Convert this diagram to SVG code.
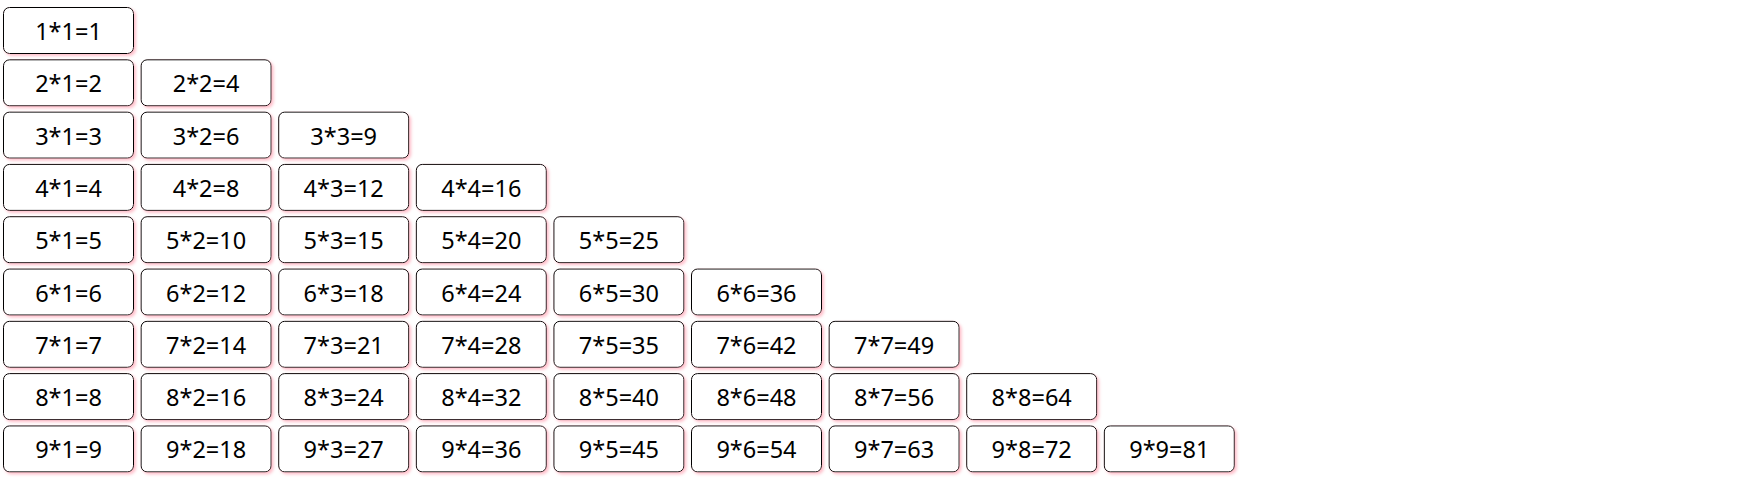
<svg xmlns="http://www.w3.org/2000/svg" width="1762" height="493" viewBox="0 0 1762 493">
<defs>
<filter id="sh" x="-10%" y="-10%" width="120%" height="130%">
<feDropShadow dx="2" dy="2" stdDeviation="1.5" flood-color="#ffc0cb" flood-opacity="1"/>
</filter>
</defs>
<style>
.b rect{fill:#fff;stroke:#000;stroke-width:1;filter:url(#sh)}
.b text{font-family:"Noto Sans","Open Sans","DejaVu Sans",sans-serif;font-size:23.5px;fill:#000;text-anchor:middle}
</style>
<rect width="1762" height="493" fill="#fff"/>
<g id="connectors"></g>
<g class="b" id="n1x1"><rect x="3.5" y="7.5" width="130" height="46" rx="6"/><text x="68.5" y="40">1*1=1</text></g>
<g class="b" id="n2x1"><rect x="3.5" y="59.8" width="130" height="46" rx="6"/><text x="68.5" y="92.3">2*1=2</text></g>
<g class="b" id="n2x2"><rect x="141.1" y="59.8" width="130" height="46" rx="6"/><text x="206.1" y="92.3">2*2=4</text></g>
<g class="b" id="n3x1"><rect x="3.5" y="112.1" width="130" height="46" rx="6"/><text x="68.5" y="144.6">3*1=3</text></g>
<g class="b" id="n3x2"><rect x="141.1" y="112.1" width="130" height="46" rx="6"/><text x="206.1" y="144.6">3*2=6</text></g>
<g class="b" id="n3x3"><rect x="278.7" y="112.1" width="130" height="46" rx="6"/><text x="343.7" y="144.6">3*3=9</text></g>
<g class="b" id="n4x1"><rect x="3.5" y="164.4" width="130" height="46" rx="6"/><text x="68.5" y="196.9">4*1=4</text></g>
<g class="b" id="n4x2"><rect x="141.1" y="164.4" width="130" height="46" rx="6"/><text x="206.1" y="196.9">4*2=8</text></g>
<g class="b" id="n4x3"><rect x="278.7" y="164.4" width="130" height="46" rx="6"/><text x="343.7" y="196.9">4*3=12</text></g>
<g class="b" id="n4x4"><rect x="416.3" y="164.4" width="130" height="46" rx="6"/><text x="481.3" y="196.9">4*4=16</text></g>
<g class="b" id="n5x1"><rect x="3.5" y="216.7" width="130" height="46" rx="6"/><text x="68.5" y="249.2">5*1=5</text></g>
<g class="b" id="n5x2"><rect x="141.1" y="216.7" width="130" height="46" rx="6"/><text x="206.1" y="249.2">5*2=10</text></g>
<g class="b" id="n5x3"><rect x="278.7" y="216.7" width="130" height="46" rx="6"/><text x="343.7" y="249.2">5*3=15</text></g>
<g class="b" id="n5x4"><rect x="416.3" y="216.7" width="130" height="46" rx="6"/><text x="481.3" y="249.2">5*4=20</text></g>
<g class="b" id="n5x5"><rect x="553.9" y="216.7" width="130" height="46" rx="6"/><text x="618.9" y="249.2">5*5=25</text></g>
<g class="b" id="n6x1"><rect x="3.5" y="269" width="130" height="46" rx="6"/><text x="68.5" y="301.5">6*1=6</text></g>
<g class="b" id="n6x2"><rect x="141.1" y="269" width="130" height="46" rx="6"/><text x="206.1" y="301.5">6*2=12</text></g>
<g class="b" id="n6x3"><rect x="278.7" y="269" width="130" height="46" rx="6"/><text x="343.7" y="301.5">6*3=18</text></g>
<g class="b" id="n6x4"><rect x="416.3" y="269" width="130" height="46" rx="6"/><text x="481.3" y="301.5">6*4=24</text></g>
<g class="b" id="n6x5"><rect x="553.9" y="269" width="130" height="46" rx="6"/><text x="618.9" y="301.5">6*5=30</text></g>
<g class="b" id="n6x6"><rect x="691.5" y="269" width="130" height="46" rx="6"/><text x="756.5" y="301.5">6*6=36</text></g>
<g class="b" id="n7x1"><rect x="3.5" y="321.3" width="130" height="46" rx="6"/><text x="68.5" y="353.8">7*1=7</text></g>
<g class="b" id="n7x2"><rect x="141.1" y="321.3" width="130" height="46" rx="6"/><text x="206.1" y="353.8">7*2=14</text></g>
<g class="b" id="n7x3"><rect x="278.7" y="321.3" width="130" height="46" rx="6"/><text x="343.7" y="353.8">7*3=21</text></g>
<g class="b" id="n7x4"><rect x="416.3" y="321.3" width="130" height="46" rx="6"/><text x="481.3" y="353.8">7*4=28</text></g>
<g class="b" id="n7x5"><rect x="553.9" y="321.3" width="130" height="46" rx="6"/><text x="618.9" y="353.8">7*5=35</text></g>
<g class="b" id="n7x6"><rect x="691.5" y="321.3" width="130" height="46" rx="6"/><text x="756.5" y="353.8">7*6=42</text></g>
<g class="b" id="n7x7"><rect x="829.1" y="321.3" width="130" height="46" rx="6"/><text x="894.1" y="353.8">7*7=49</text></g>
<g class="b" id="n8x1"><rect x="3.5" y="373.6" width="130" height="46" rx="6"/><text x="68.5" y="406.1">8*1=8</text></g>
<g class="b" id="n8x2"><rect x="141.1" y="373.6" width="130" height="46" rx="6"/><text x="206.1" y="406.1">8*2=16</text></g>
<g class="b" id="n8x3"><rect x="278.7" y="373.6" width="130" height="46" rx="6"/><text x="343.7" y="406.1">8*3=24</text></g>
<g class="b" id="n8x4"><rect x="416.3" y="373.6" width="130" height="46" rx="6"/><text x="481.3" y="406.1">8*4=32</text></g>
<g class="b" id="n8x5"><rect x="553.9" y="373.6" width="130" height="46" rx="6"/><text x="618.9" y="406.1">8*5=40</text></g>
<g class="b" id="n8x6"><rect x="691.5" y="373.6" width="130" height="46" rx="6"/><text x="756.5" y="406.1">8*6=48</text></g>
<g class="b" id="n8x7"><rect x="829.1" y="373.6" width="130" height="46" rx="6"/><text x="894.1" y="406.1">8*7=56</text></g>
<g class="b" id="n8x8"><rect x="966.7" y="373.6" width="130" height="46" rx="6"/><text x="1031.7" y="406.1">8*8=64</text></g>
<g class="b" id="n9x1"><rect x="3.5" y="425.9" width="130" height="46" rx="6"/><text x="68.5" y="458.4">9*1=9</text></g>
<g class="b" id="n9x2"><rect x="141.1" y="425.9" width="130" height="46" rx="6"/><text x="206.1" y="458.4">9*2=18</text></g>
<g class="b" id="n9x3"><rect x="278.7" y="425.9" width="130" height="46" rx="6"/><text x="343.7" y="458.4">9*3=27</text></g>
<g class="b" id="n9x4"><rect x="416.3" y="425.9" width="130" height="46" rx="6"/><text x="481.3" y="458.4">9*4=36</text></g>
<g class="b" id="n9x5"><rect x="553.9" y="425.9" width="130" height="46" rx="6"/><text x="618.9" y="458.4">9*5=45</text></g>
<g class="b" id="n9x6"><rect x="691.5" y="425.9" width="130" height="46" rx="6"/><text x="756.5" y="458.4">9*6=54</text></g>
<g class="b" id="n9x7"><rect x="829.1" y="425.9" width="130" height="46" rx="6"/><text x="894.1" y="458.4">9*7=63</text></g>
<g class="b" id="n9x8"><rect x="966.7" y="425.9" width="130" height="46" rx="6"/><text x="1031.7" y="458.4">9*8=72</text></g>
<g class="b" id="n9x9"><rect x="1104.3" y="425.9" width="130" height="46" rx="6"/><text x="1169.3" y="458.4">9*9=81</text></g>
</svg>
